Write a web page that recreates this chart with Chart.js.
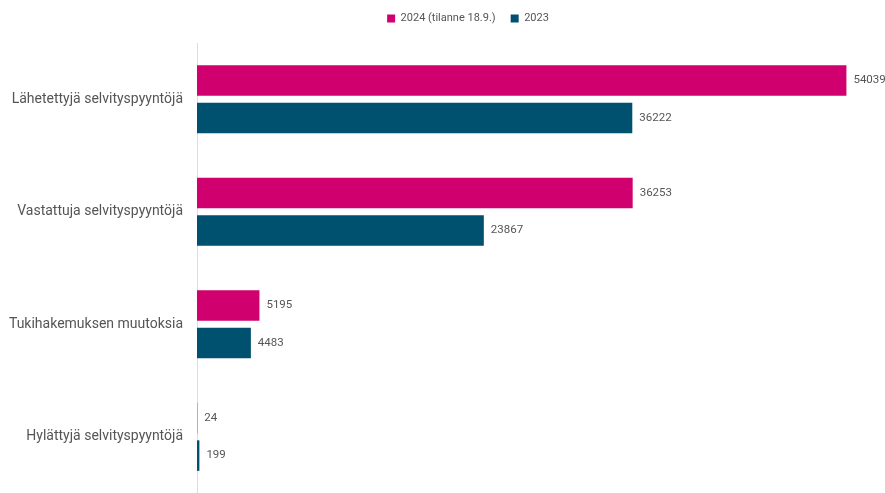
<!DOCTYPE html>
<html>
<head>
<meta charset="utf-8">
<script src="https://cdn.jsdelivr.net/npm/chart.js@4"></script>
<style>
  html, body { margin: 0; padding: 0; background: #fff; }
  #wrap { width: 885px; height: 493px; }
</style>
</head>
<body>
<div id="wrap"><canvas id="chart"></canvas></div>
<script>
const categories = [
  "Lähetettyjä selvityspyyntöjä",
  "Vastattuja selvityspyyntöjä",
  "Tukihakemuksen muutoksia",
  "Hylättyjä selvityspyyntöjä"
];
const values2024 = [54039, 36253, 5195, 24];
const values2023 = [36222, 23867, 4483, 199];
const seriesLabels = ["2024 (tilanne 18.9.)", "2023"];

// value labels at the end of each bar
const valueLabels = {
  id: "valueLabels",
  afterDatasetsDraw(chart) {
    const ctx = chart.ctx;
    ctx.save();
    ctx.font = "11.5px Roboto";
    ctx.fillStyle = "#555";
    ctx.textBaseline = "middle";
    ctx.textAlign = "left";
    chart.data.datasets.forEach((ds, i) => {
      chart.getDatasetMeta(i).data.forEach((bar, j) => {
        ctx.fillText(ds.data[j], bar.x + 7, bar.y);
      });
    });
    ctx.restore();
  }
};

// legend sits a bit higher and to the right of the default spot
const legendShift = {
  id: "legendShift",
  afterLayout(chart) {
    const lg = chart.legend;
    lg.left += 27;
    lg.right += 27;
    lg.top -= 9;
    lg.bottom -= 9;
  }
};

const ctx = document.getElementById("chart").getContext("2d");
new Chart(ctx, {
  type: "bar",
  data: {
    labels: categories,
    datasets: [
      {
        label: seriesLabels[0],
        data: values2024,
        backgroundColor: "#d1006f",
        categoryPercentage: 0.67,
        barPercentage: 0.81
      },
      {
        label: seriesLabels[1],
        data: values2023,
        backgroundColor: "#00506f",
        categoryPercentage: 0.67,
        barPercentage: 0.81
      }
    ]
  },
  options: {
    indexAxis: "y",
    responsive: true,
    maintainAspectRatio: false,
    animation: false,
    layout: { padding: { top: 7, right: 3, bottom: -4, left: 0 } },
    scales: {
      x: {
        display: false,
        min: 0,
        max: 57000
      },
      y: {
        grid: { display: false },
        border: { display: true, color: "#dddddd", width: 1 },
        afterFit(scale) {
          scale.width = 197;
          scale.paddingTop = 0;
          scale.paddingBottom = -4;
        },
        ticks: {
          padding: 6,
          color: "#555",
          font: { family: "Roboto", size: 14 }
        }
      }
    },
    plugins: {
      legend: {
        position: "top",
        labels: {
          boxWidth: 8,
          boxHeight: 8,
          padding: 15,
          color: "#555",
          font: { family: "Roboto", size: 11 }
        }
      },
      tooltip: { enabled: false }
    }
  },
  plugins: [valueLabels, legendShift]
});
</script>
</body>
</html>
